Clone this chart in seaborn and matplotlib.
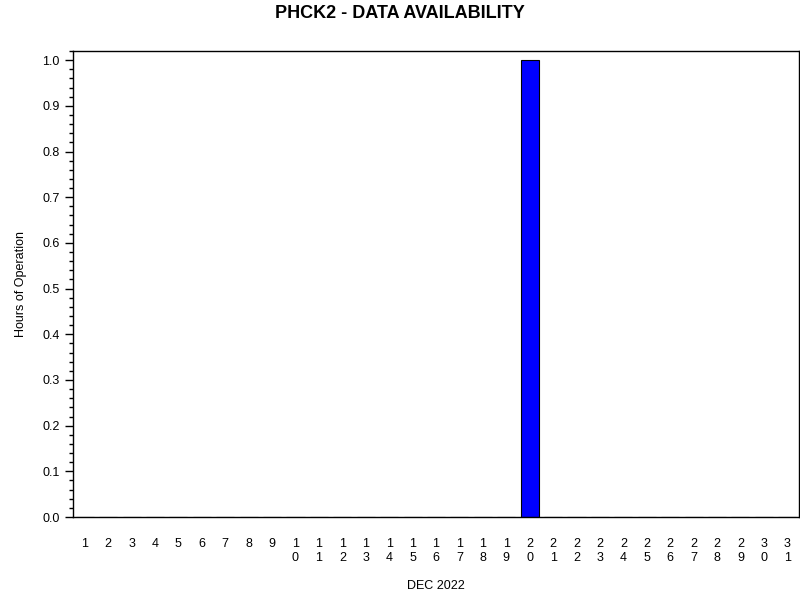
import pandas as pd
import seaborn as sns
import matplotlib.pyplot as plt
from matplotlib.ticker import MultipleLocator

days = list(range(1, 32))
hours = [0.0] * 31
hours[19] = 1.0  # Dec 20
day_labels = ['\n'.join(str(d)) for d in days]

df = pd.DataFrame({'day': [str(d) for d in days], 'hours': hours})

sns.set_style('white')
plt.rcParams['font.family'] = ['Liberation Sans', 'DejaVu Sans']
plt.rcParams['text.color'] = 'black'
plt.rcParams['axes.labelcolor'] = 'black'
plt.rcParams['xtick.color'] = 'black'
plt.rcParams['ytick.color'] = 'black'

fig = plt.figure(figsize=(8, 6), dpi=100)
ax = fig.add_axes([0.09125, 0.1383, 0.9075, 0.7767])

sns.barplot(data=df, x='day', y='hours', color='#0000ff', saturation=1,
            width=0.77, edgecolor='black', linewidth=0.8, ax=ax)

ax.set_xlim(-0.5, 30.5)
ax.set_ylim(0, 1.02)
ax.set_xticks(range(31))
ax.set_xticklabels(day_labels, fontsize=9, linespacing=1.2, va='top')
ax.tick_params(axis='x', length=0, pad=15)
ax.yaxis.set_major_locator(MultipleLocator(0.1))
ax.yaxis.set_minor_locator(MultipleLocator(0.02))
ax.tick_params(axis='y', which='major', length=6, width=1, direction='out', labelsize=9, left=True)
ax.tick_params(axis='y', which='minor', length=3, width=1, direction='out', left=True)
ax.yaxis.set_major_formatter(plt.FuncFormatter(lambda v, p: f'{v:.1f}'))

for s in ax.spines.values():
    s.set_visible(True)
    s.set_color('black')
    s.set_linewidth(1)

ax.set_xlabel('DEC 2022', fontsize=9, labelpad=12)
ax.set_ylabel('Hours of Operation', fontsize=9, labelpad=11)
fig.suptitle('PHCK2 - DATA AVAILABILITY', fontsize=13, fontweight='bold', y=0.992)

fig.savefig('out.png', dpi=100, facecolor='white')
